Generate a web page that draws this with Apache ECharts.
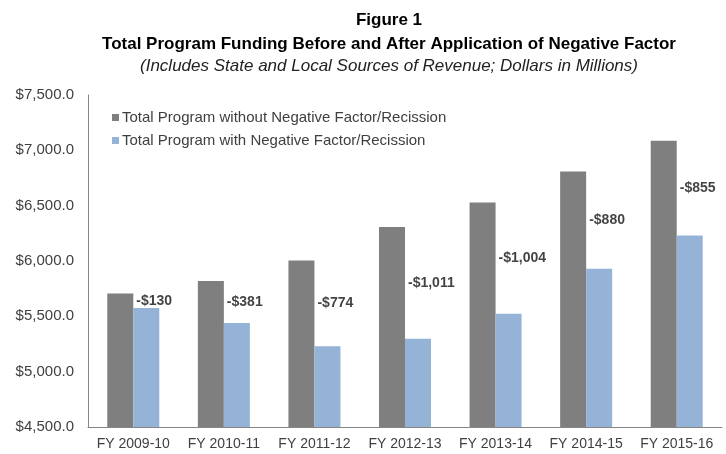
<!DOCTYPE html>
<html><head><meta charset="utf-8">
<script src="https://cdn.jsdelivr.net/npm/echarts@6/dist/echarts.min.js"></script>
<style>html,body{margin:0;padding:0;background:#fff}#c{width:726px;height:454px}</style>
</head><body><div id="c"></div>
<script>
const categories = ["FY 2009-10","FY 2010-11","FY 2011-12","FY 2012-13","FY 2013-14","FY 2014-15","FY 2015-16"];
const withoutNF = [5706, 5820, 6004, 6308, 6528, 6809, 7086];
const withNF = [5576, 5439, 5230, 5297, 5524, 5929, 6231];
const diffLabels = ["-$130","-$381","-$774","-$1,011","-$1,004","-$880","-$855"];
const yTicks = {min: 4500, max: 7500, interval: 500};
const seriesNames = ["Total Program without Negative Factor/Recission","Total Program with Negative Factor/Recission"];

const mid = withoutNF.map((v,i)=>[i,(v+withNF[i])/2]);
const font = "'Liberation Sans', Arial, sans-serif";
const chart = echarts.init(document.getElementById('c'), null, {renderer:'canvas'});
chart.setOption({
  animation:false,
  backgroundColor:'#fff',
  title:[
    {text:'Figure 1', left:384, top:7, textAlign:'center', textStyle:{fontFamily:font,fontSize:17,fontWeight:'bold',color:'#000'}},
    {text:'Total Program Funding Before and After Application of Negative Factor', left:384, top:31, textAlign:'center', textStyle:{fontFamily:font,fontSize:17,fontWeight:'bold',color:'#000'}},
    {text:'(Includes State and Local Sources of Revenue; Dollars in Millions)', left:384, top:53, textAlign:'center', textStyle:{fontFamily:font,fontSize:17,fontStyle:'italic',fontWeight:'normal',color:'#222'}}
  ],
  legend:{
    orient:'vertical', left:107, top:105, itemGap:8, itemWidth:7, itemHeight:7, icon:'rect',
    data:seriesNames,
    textStyle:{fontFamily:font,fontSize:15,color:'#404040',padding:[0,0,0,-2]}
  },
  grid:{left:88,right:4,top:95,bottom:27,containLabel:false},
  xAxis:{type:'category',data:categories,
    axisLine:{lineStyle:{color:'#868686',width:1}},axisTick:{show:false},
    axisLabel:{interval:0,fontFamily:font,fontSize:14,color:'#404040',margin:10}},
  yAxis:{type:'value',min:yTicks.min,max:yTicks.max,interval:yTicks.interval,
    axisLine:{show:true,lineStyle:{color:'#868686',width:1}},axisTick:{show:false},splitLine:{show:false},
    axisLabel:{fontFamily:font,fontSize:15,color:'#404040',margin:14,
      formatter:v=>'$'+v.toLocaleString('en-US',{minimumFractionDigits:1,maximumFractionDigits:1})}},
  series:[
    {name:seriesNames[0],type:'bar',data:withoutNF,barWidth:26,barGap:'0%',itemStyle:{color:'#7f7f7f'}},
    {name:seriesNames[1],type:'bar',data:withNF,barWidth:26,barGap:'0%',itemStyle:{color:'#95b3d7'}},
    {name:'diff',type:'scatter',data:mid,symbolSize:0,silent:true,
      label:{show:true,position:'right',distance:3,
        formatter:p=>diffLabels[p.dataIndex],
        fontFamily:font,fontSize:14,fontWeight:'bold',color:'#111'}}
  ]
});
</script></body></html>
